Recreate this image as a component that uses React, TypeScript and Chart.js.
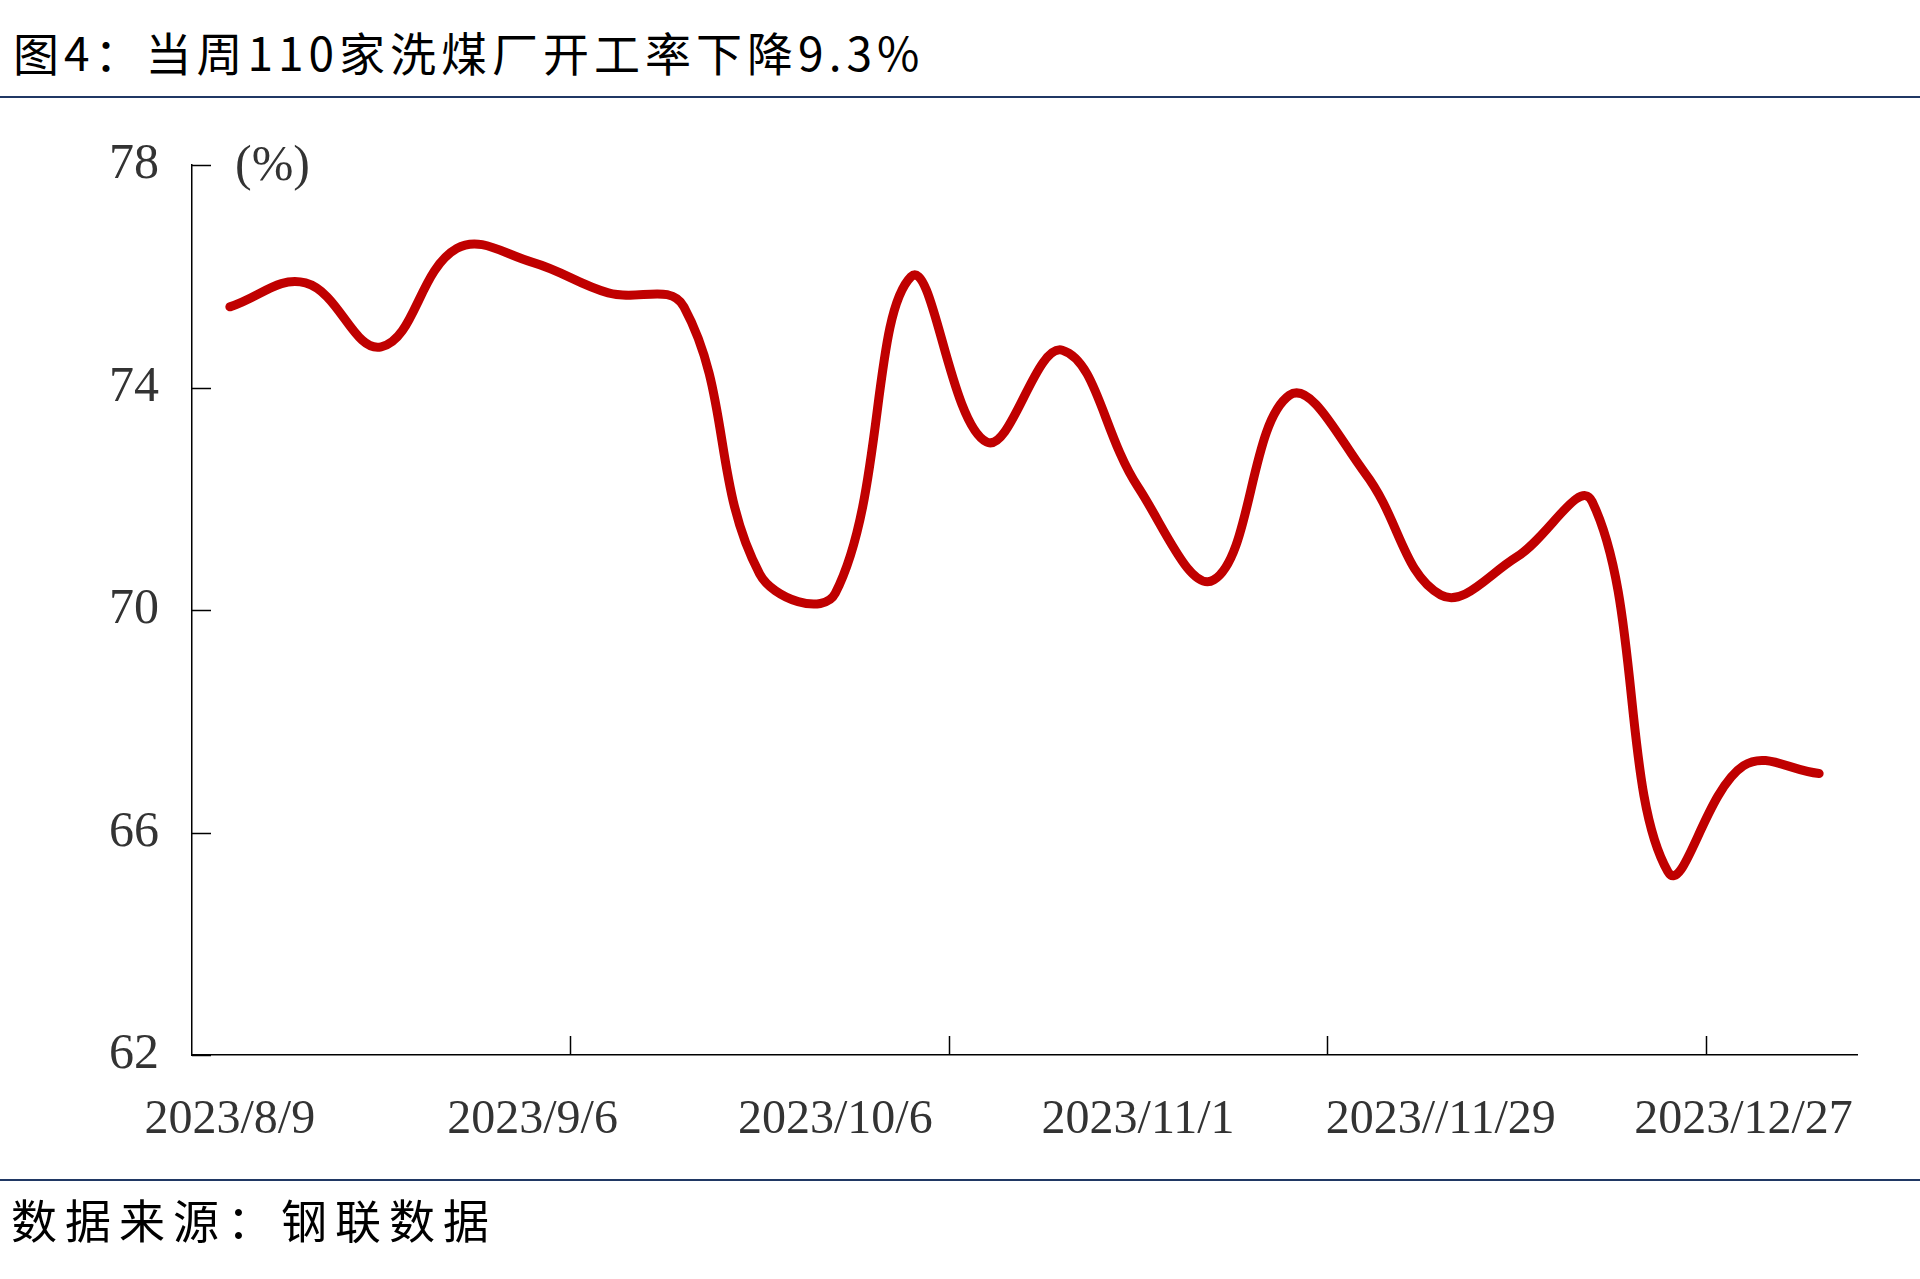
import React, { useEffect, useRef } from "react";
import { Chart, registerables } from "chart.js";

Chart.register(...registerables);

const categories: string[] = [
  "2023/8/9", "2023/8/16", "2023/8/23", "2023/8/30",
  "2023/9/6", "2023/9/13", "2023/9/20", "2023/9/27",
  "2023/10/6", "2023/10/11", "2023/10/18", "2023/10/25",
  "2023/11/1", "2023/11/8", "2023/11/15", "2023/11/22",
  "2023//11/29", "2023/12/6", "2023/12/13", "2023/12/20",
  "2023/12/27", "2024/1/3",
];

const utilization: number[] = [
  75.45, 75.88, 74.73, 76.5, 76.25, 75.7, 75.45, 70.65,
  70.3, 75.99, 73.02, 74.67, 72.21, 70.54, 73.86, 72.46,
  70.27, 70.95, 71.95, 65.3, 67.2, 67.06,
];

const yTicks: number[] = [62, 66, 70, 74, 78];

const TITLE = "图4：当周110家洗煤厂开工率下降9.3%";
const SOURCE = "数据来源：钢联数据";
const UNIT = "(%)";

const LABEL_EVERY = 4;
const TICK_EVERY = 5;

export default function App() {
  const ref = useRef<HTMLCanvasElement | null>(null);

  useEffect(() => {
    if (!ref.current) return;
    const axisPlugin = {
      id: "axisDecor",
      afterDraw(chart: any) {
        const ctx = chart.ctx;
        const x = chart.scales.x;
        const y = chart.scales.y;
        const area = chart.chartArea;
        ctx.save();
        ctx.strokeStyle = "#000";
        ctx.lineWidth = 1.5;
        yTicks.forEach((v) => {
          const py = Math.round(y.getPixelForValue(v)) + 0.5;
          ctx.beginPath();
          ctx.moveTo(area.left, py);
          ctx.lineTo(area.left + 19, py);
          ctx.stroke();
        });
        for (let i = TICK_EVERY; i < categories.length; i += TICK_EVERY) {
          const px = Math.round((x.getPixelForValue(i - 1) + x.getPixelForValue(i)) / 2) + 0.5;
          ctx.beginPath();
          ctx.moveTo(px, area.bottom);
          ctx.lineTo(px, area.bottom - 19);
          ctx.stroke();
        }
        ctx.fillStyle = "#333";
        ctx.font = "50px 'Liberation Serif'";
        ctx.textAlign = "left";
        ctx.textBaseline = "middle";
        ctx.fillText(UNIT, area.left + 43, y.getPixelForValue(78) + 2);
        ctx.restore();
      },
    };

    const chart = new Chart(ref.current, {
      type: "line",
      data: {
        labels: categories,
        datasets: [
          {
            data: utilization,
            borderColor: "#C00000",
            borderWidth: 9,
            pointRadius: 0,
            tension: 0.4,
            borderCapStyle: "round",
            borderJoinStyle: "round",
            fill: false,
          },
        ],
      },
      options: {
        animation: false,
        responsive: false,
        maintainAspectRatio: false,
        layout: { padding: { top: 165, right: 63, left: 0, bottom: 0 } },
        plugins: { legend: { display: false }, tooltip: { enabled: false } },
        scales: {
          x: {
            type: "category",
            offset: true,
            grid: { display: false, drawTicks: false },
            border: { display: true, color: "#000", width: 1.5 },
            afterFit: (s: any) => {
              s.height = 224;
            },
            ticks: {
              autoSkip: false,
              maxRotation: 0,
              minRotation: 0,
              padding: 37,
              color: "#333",
              font: { family: "'Liberation Serif'", size: 48 },
              callback: (_v: any, i: number) => (i % LABEL_EVERY === 0 ? categories[i] : ""),
            },
          },
          y: {
            min: 62,
            max: 78,
            grid: { display: false, drawTicks: false },
            border: { display: true, color: "#000", width: 1.5 },
            afterFit: (s: any) => {
              s.width = 192;
            },
            afterBuildTicks: (s: any) => {
              s.ticks = yTicks.map((v) => ({ value: v }));
            },
            ticks: {
              padding: 33,
              color: "#333",
              font: { family: "'Liberation Serif'", size: 50 },
            },
          },
        },
      },
      plugins: [axisPlugin],
    } as any);
    return () => chart.destroy();
  }, []);

  const cjk = "'Noto Sans CJK SC', 'Noto Sans', sans-serif";

  return (
    <div style={{ position: "absolute", left: 0, top: 0, width: 1920, height: 1279, background: "#fff", overflow: "hidden" }}>
      <div
        style={{
          position: "absolute",
          left: 13,
          top: 28,
          fontFamily: cjk,
          fontSize: 46,
          lineHeight: "46px",
          letterSpacing: 5,
          color: "#000",
          whiteSpace: "nowrap",
        }}
      >
        {TITLE}
      </div>
      <div style={{ position: "absolute", left: 0, top: 96, width: 1920, height: 2, background: "#203864" }} />
      <canvas ref={ref} width={1920} height={1279} style={{ position: "absolute", left: 0, top: 0, width: 1920, height: 1279 }} />
      <div style={{ position: "absolute", left: 0, top: 1179, width: 1920, height: 2, background: "#203864" }} />
      <div
        style={{
          position: "absolute",
          left: 11,
          top: 1195,
          fontFamily: cjk,
          fontSize: 46,
          lineHeight: "46px",
          letterSpacing: 8,
          color: "#000",
          whiteSpace: "nowrap",
        }}
      >
        {SOURCE}
      </div>
    </div>
  );
}
